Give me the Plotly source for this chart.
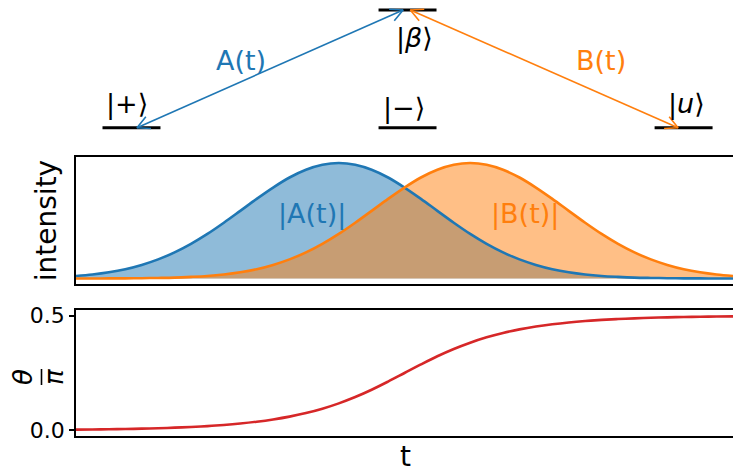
import numpy as np
import plotly.graph_objects as go

# ---------------- data ----------------
t_vals = [i / 40 for i in range(41)]  # time axis samples 0..1
A_vals = [0.022, 0.035, 0.054, 0.081, 0.118, 0.166, 0.226, 0.300, 0.386, 0.483,
          0.586, 0.690, 0.788, 0.875, 0.942, 0.985, 1.000, 0.985, 0.942, 0.875,
          0.788, 0.690, 0.586, 0.483, 0.386, 0.300, 0.226, 0.166, 0.118, 0.081,
          0.054, 0.035, 0.022, 0.014, 0.008, 0.005, 0.003, 0.001, 0.001, 0.000, 0.000]
B_vals = [0.000, 0.000, 0.001, 0.001, 0.003, 0.005, 0.008, 0.014, 0.022, 0.035,
          0.054, 0.081, 0.118, 0.166, 0.226, 0.300, 0.386, 0.483, 0.586, 0.690,
          0.788, 0.875, 0.942, 0.985, 1.000, 0.985, 0.942, 0.875, 0.788, 0.690,
          0.586, 0.483, 0.386, 0.300, 0.226, 0.166, 0.118, 0.081, 0.054, 0.035, 0.022]
theta_vals = [0.0027, 0.0035, 0.0044, 0.0056, 0.0071, 0.0090, 0.0114, 0.0145, 0.0183, 0.0232,
              0.0294, 0.0373, 0.0472, 0.0595, 0.0750, 0.0941, 0.1175, 0.1450, 0.1769, 0.2125,
              0.2500, 0.2875, 0.3231, 0.3550, 0.3825, 0.4059, 0.4250, 0.4405, 0.4529, 0.4627,
              0.4706, 0.4768, 0.4817, 0.4855, 0.4886, 0.4910, 0.4929, 0.4944, 0.4956, 0.4965, 0.4973]
theta_ticks = [0.0, 0.5]
theta_ticktext = ["0.0", "0.5"]

# level diagram
level_names = ["|+⟩", "|−⟩", "|<i>u</i>⟩", "|<i>β</i>⟩"]
level_x = [0, 1, 2, 1]
level_E = [0, 0, 0, 1]
arrow_names = ["A(t)", "B(t)"]
arrow_start = [(0.02, 0.0), (1.98, 0.0)]
arrow_end = [(0.984, 1.0), (1.01, 1.0)]

BLUE = "#1f77b4"
ORANGE = "#ff7f0e"
RED = "#d62728"
FONT = "DejaVu Sans"

# ---------------- geometry ----------------
W, H = 733, 474
ML, MR, MT, MB = 76, 0, 0, 38
PW, PH = W - ML - MR, H - MT - MB


def dom(top_px, bot_px):
    return [(PH - bot_px) / PH, (PH - top_px) / PH]


x3_range = [-0.201, 2.179]
# y3: E=0 at px 127.7, E=1 at px 10, domain px 0..140
sy3 = 117.7
y3_range = [(127.7 - 140) / sy3, 127.7 / sy3]
sx3 = PW / (x3_range[1] - x3_range[0])

fig = go.Figure()

# ---- intensity panel (x2, y2) ----
fig.add_trace(go.Scatter(x=t_vals, y=A_vals, xaxis="x2", yaxis="y2", mode="lines",
                         line=dict(width=0, shape="spline"), fill="tozeroy",
                         fillcolor="rgba(31,119,180,0.5)", showlegend=False, hoverinfo="skip"))
fig.add_trace(go.Scatter(x=t_vals, y=B_vals, xaxis="x2", yaxis="y2", mode="lines",
                         line=dict(width=0, shape="spline"), fill="tozeroy",
                         fillcolor="rgba(255,127,14,0.5)", showlegend=False, hoverinfo="skip"))
fig.add_trace(go.Scatter(x=t_vals, y=A_vals, xaxis="x2", yaxis="y2", mode="lines",
                         line=dict(width=2.6, color=BLUE, shape="spline"), showlegend=False))
fig.add_trace(go.Scatter(x=t_vals, y=B_vals, xaxis="x2", yaxis="y2", mode="lines",
                         line=dict(width=2.6, color=ORANGE, shape="spline"), showlegend=False))

# ---- theta panel (x, y) ----
fig.add_trace(go.Scatter(x=t_vals, y=theta_vals, xaxis="x", yaxis="y", mode="lines",
                         line=dict(width=2.6, color=RED, shape="spline"), showlegend=False))

# ---- level diagram (x3, y3) ----
half_w = 0.105
for lx, le in zip(level_x, level_E):
    fig.add_trace(go.Scatter(x=[lx - half_w, lx + half_w], y=[le, le], xaxis="x3", yaxis="y3",
                             mode="lines", line=dict(color="black", width=3), showlegend=False))

arrow_colors = [BLUE, ORANGE]


def chevron(tip, other, arm_px=14, ang_deg=27):
    dx = (other[0] - tip[0]) * sx3
    dy = (other[1] - tip[1]) * sy3
    n = np.hypot(dx, dy)
    ux, uy = dx / n, dy / n
    pts_x, pts_y = [], []
    for s in (1, -1):
        a = np.deg2rad(ang_deg) * s
        rx = ux * np.cos(a) - uy * np.sin(a)
        ry = ux * np.sin(a) + uy * np.cos(a)
        pts_x.append(tip[0] + rx * arm_px / sx3)
        pts_y.append(tip[1] + ry * arm_px / sy3)
    return [pts_x[0], tip[0], pts_x[1]], [pts_y[0], tip[1], pts_y[1]]


for (p0, p1, c) in zip(arrow_start, arrow_end, arrow_colors):
    fig.add_trace(go.Scatter(x=[p0[0], p1[0]], y=[p0[1], p1[1]], xaxis="x3", yaxis="y3",
                             mode="lines", line=dict(color=c, width=1.6), showlegend=False))
    for tip, oth in ((p0, p1), (p1, p0)):
        cx, cy = chevron(tip, oth)
        fig.add_trace(go.Scatter(x=cx, y=cy, xaxis="x3", yaxis="y3", mode="lines",
                                 line=dict(color=c, width=1.6), showlegend=False))

annotations = []


def ann(**kw):
    base = dict(showarrow=False, xanchor="center", yanchor="middle")
    base.update(kw)
    annotations.append(base)


# level labels
label_pos = [(-0.018, 0.20), (0.987, 0.165), (2.011, 0.20), (1.027, 0.76)]
for name, (lx, ly) in zip(level_names, label_pos):
    ann(x=lx, y=ly, xref="x3", yref="y3", text=name,
        font=dict(family=FONT, size=27, color="black"))
arrow_label_pos = [(0.397, 0.57), (1.701, 0.57)]
for name, (lx, ly), c in zip(arrow_names, arrow_label_pos, arrow_colors):
    ann(x=lx, y=ly, xref="x3", yref="y3", text=name,
        font=dict(family=FONT, size=27, color=c))

# pulse labels
ann(x=0.359, y=0.56, xref="x2", yref="y2", text="|A(t)|",
    font=dict(family=FONT, size=27, color=BLUE))
ann(x=0.683, y=0.56, xref="x2", yref="y2", text="|B(t)|",
    font=dict(family=FONT, size=27, color=ORANGE))

# axis titles
ann(x=(46.7 - ML) / PW, y=(PH - 220.5) / PH, xref="paper", yref="paper",
    text="intensity", textangle=-90, font=dict(family=FONT, size=28, color="black"))
ann(x=(405 - ML) / PW, y=(PH - 474) / PH, xref="paper", yref="paper", yanchor="bottom",
    borderpad=0, text="t", font=dict(family=FONT, size=28, color="black"))
ann(x=(23 - ML) / PW, y=(PH - 377) / PH, xref="paper", yref="paper",
    text="<i>θ</i>", textangle=-90, font=dict(family=FONT, size=26, color="black"))
ann(x=(54 - ML) / PW, y=(PH - 377) / PH, xref="paper", yref="paper",
    text="<i>π</i>", textangle=-90, font=dict(family=FONT, size=26, color="black"))

shapes = [dict(type="line", xref="paper", yref="paper",
               x0=(41.5 - ML) / PW, x1=(41.5 - ML) / PW,
               y0=(PH - 369) / PH, y1=(PH - 385) / PH,
               line=dict(color="black", width=1.6))]

axis_common = dict(showgrid=False, zeroline=False, showline=True, linecolor="black",
                   linewidth=1.5, automargin=False)

fig.update_layout(
    template="none",
    width=W, height=H,
    margin=dict(l=ML, r=MR, t=MT, b=MB, pad=0, autoexpand=False),
    paper_bgcolor="white", plot_bgcolor="white",
    font=dict(family=FONT, color="black"),
    showlegend=False,
    xaxis=dict(domain=[0, 1], range=[0, 1], anchor="y", mirror=True,
               showticklabels=False, ticks="", **axis_common),
    yaxis=dict(domain=dom(310, 436), range=[-0.025, 0.525], anchor="x",
               tickvals=theta_ticks, ticktext=theta_ticktext, ticks="outside",
               ticklen=5, tickwidth=1.5, tickcolor="black",
               tickfont=dict(family=FONT, size=22, color="black"), **axis_common),
    xaxis2=dict(domain=[0, 1], range=[0, 1], anchor="y2", mirror=True,
                showticklabels=False, ticks="", **axis_common),
    yaxis2=dict(domain=dom(157.3, 284.3), range=[-0.05, 1.05], anchor="x2",
                showticklabels=False, ticks="", **axis_common),
    xaxis3=dict(domain=[0, 1], range=x3_range, anchor="y3", visible=False, automargin=False),
    yaxis3=dict(domain=dom(0, 140), range=y3_range, anchor="x3", visible=False, automargin=False),
    annotations=annotations,
    shapes=shapes,
)

fig.write_html("out.html")
